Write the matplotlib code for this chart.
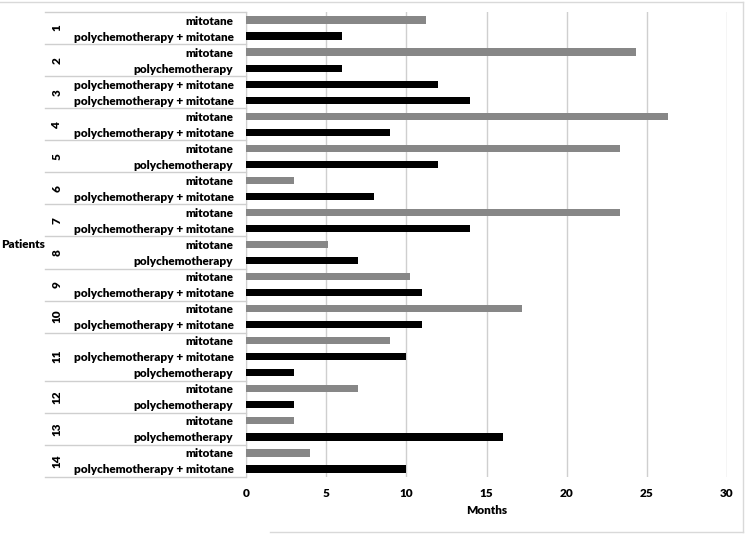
import numpy as np
import matplotlib
matplotlib.use('Agg')
import matplotlib.pyplot as plt
import matplotlib.transforms as mtransforms
from matplotlib.lines import Line2D

plt.rcParams['font.family'] = ['Lato', 'DejaVu Sans']
plt.rcParams['font.weight'] = 'heavy'
plt.rcParams['axes.labelweight'] = 'heavy'

# one entry per bar, top to bottom
patients = [1, 1, 2, 2, 3, 3, 4, 4, 5, 5, 6, 6, 7, 7, 8, 8, 9, 9, 10, 10,
            11, 11, 11, 12, 12, 13, 13, 14, 14]
treatments = ['mitotane', 'polychemotherapy + mitotane',
              'mitotane', 'polychemotherapy',
              'polychemotherapy + mitotane', 'polychemotherapy + mitotane',
              'mitotane', 'polychemotherapy + mitotane',
              'mitotane', 'polychemotherapy',
              'mitotane', 'polychemotherapy + mitotane',
              'mitotane', 'polychemotherapy + mitotane',
              'mitotane', 'polychemotherapy',
              'mitotane', 'polychemotherapy + mitotane',
              'mitotane', 'polychemotherapy + mitotane',
              'mitotane', 'polychemotherapy + mitotane', 'polychemotherapy',
              'mitotane', 'polychemotherapy',
              'mitotane', 'polychemotherapy',
              'mitotane', 'polychemotherapy + mitotane']
months = [11.2, 6, 24.3, 6, 12, 14, 26.3, 9, 23.3, 12, 3, 8, 23.3, 14,
          5.1, 7, 10.2, 11, 17.2, 11, 9, 10, 3, 7, 3, 3, 16, 4, 10]

colors = ['#878787' if t == 'mitotane' else '#000000' for t in treatments]
y = np.arange(len(months))

fig = plt.figure(figsize=(7.46, 5.34), dpi=100)
ax = fig.add_axes([246/746, 57/534, 481/746, 465/534])

ax.barh(y, months, height=0.45, color=colors, zorder=3)
ax.set_ylim(len(months) - 0.5, -0.5)
ax.set_xlim(0, 30)
ax.set_xticks(range(0, 31, 5))
ax.tick_params(axis='x', length=0, labelsize=8.5, pad=8)
ax.set_yticks(y)
ax.set_yticklabels(treatments, fontsize=8.5)
ax.tick_params(axis='y', length=0, pad=9)
ax.grid(axis='x', color='#cfcfcf', lw=1, zorder=0)
for s in ['top', 'right', 'bottom']:
    ax.spines[s].set_visible(False)
ax.spines['left'].set_color('#cfcfcf')
ax.set_xlabel('Months', fontsize=8.5, fontweight='heavy', labelpad=4)

# group lines and patient numbers
trans = mtransforms.blended_transform_factory(ax.transAxes, ax.transData)
x_left = (45 - 246) / 481
groups = []
for i, p in enumerate(patients):
    if i == 0 or p != patients[i - 1]:
        groups.append([p, i, i])
    else:
        groups[-1][2] = i
for p, a, b in groups:
    ax.plot([x_left, 0], [b + 0.5, b + 0.5], color='#cfcfcf', lw=1,
            transform=trans, clip_on=False)
    ax.text((57 - 246) / 481, (a + b) / 2, str(p), rotation=90,
            ha='center', va='center', fontsize=8.5, transform=trans)
ax.plot([x_left, 0], [-0.5, -0.5], color='#cfcfcf', lw=1,
        transform=trans, clip_on=False)
fig.text(1/746, 1 - 245/534, 'Patients', ha='left', va='center', fontsize=8.5)

# outer chart frame
fc = '#d9d9d9'
fig.add_artist(Line2D([0, 743/746], [1 - 1.5/534, 1 - 1.5/534], color=fc, lw=1))
fig.add_artist(Line2D([743/746, 743/746], [2/534, 1 - 1.5/534], color=fc, lw=1))
fig.add_artist(Line2D([270/746, 743/746], [2/534, 2/534], color=fc, lw=1))

fig.savefig('out.png', dpi=100)
